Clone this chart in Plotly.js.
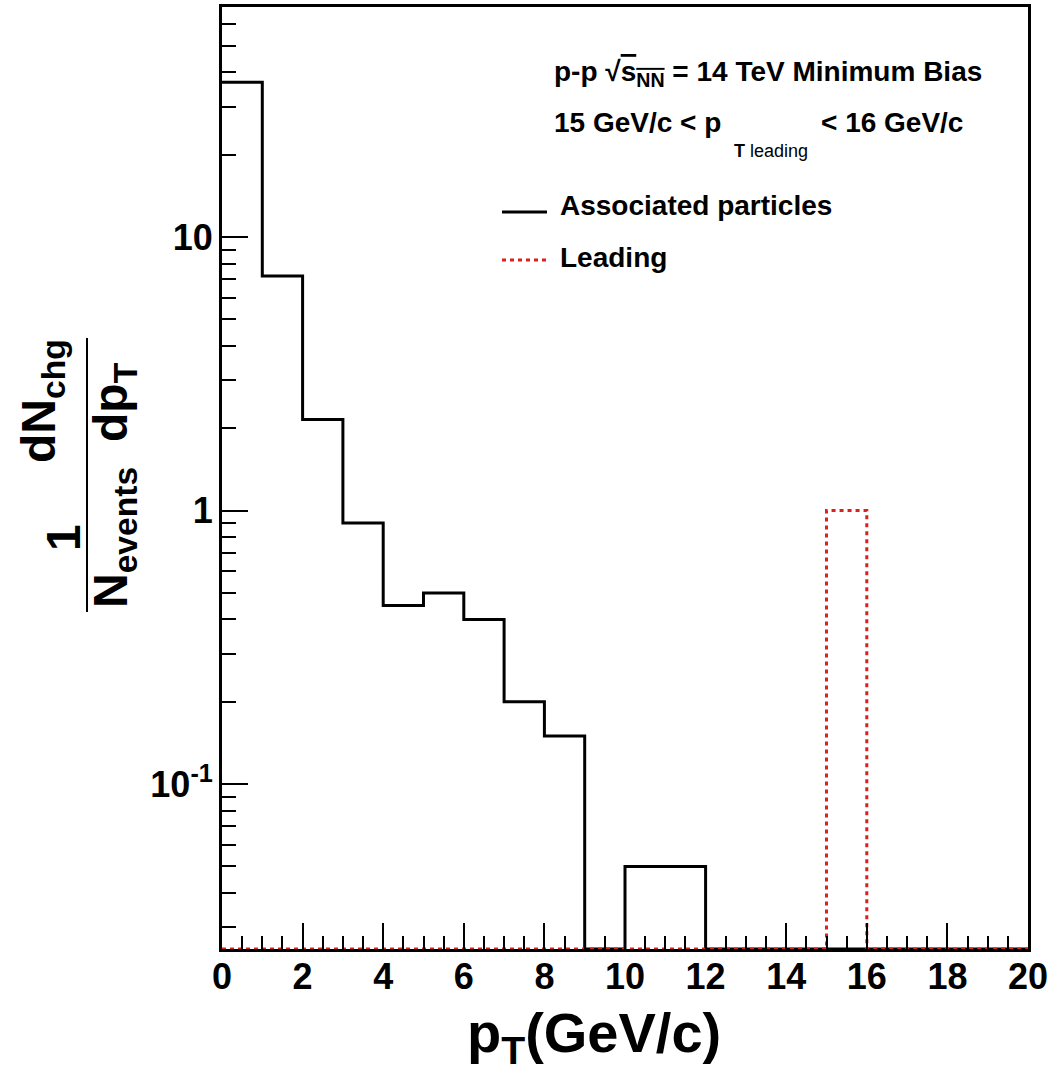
<!DOCTYPE html>
<html>
<head>
<meta charset="utf-8">
<script src="https://cdn.plot.ly/plotly-3.0.1.min.js"></script>
<style>
  html, body { margin: 0; padding: 0; background: #ffffff; }
  #chart { width: 1060px; height: 1076px; }
</style>
</head>
<body>
<div id="chart"></div>
<script>
// ---- data ----
const binEdges = [0, 1, 2, 3, 4, 5, 6, 7, 8, 9, 10, 11, 12, 13, 14, 15, 16, 17, 18, 19, 20];
const assocValues = [36.8, 7.2, 2.15, 0.90, 0.45, 0.50, 0.40, 0.20, 0.15, 0, 0.05, 0.05, 0, 0, 0, 0, 0, 0, 0, 0];
const leadingValues = [0, 0, 0, 0, 0, 0, 0, 0, 0, 0, 0, 0, 0, 0, 0, 1.0, 0, 0, 0, 0];
const xTickVals = [0, 2, 4, 6, 8, 10, 12, 14, 16, 18, 20];
const yTickVals = [0.1, 1, 10];
const yTickText = ["10<sup>-1</sup>", "1", "10"];

// ---- layout geometry ----
const W = 1060, H = 1076;
const M = { l: 222, r: 32, t: 7, b: 127 };
const PW = W - M.l - M.r, PH = H - M.t - M.b;
const Y_RANGE = [-1.603, 1.841];
const FLOOR = Math.pow(10, Y_RANGE[0]);
const px = x => (x - M.l) / PW;
const py = y => (H - M.b - y) / PH;

// minor log ticks
const yMinor = [];
for (let d = -2; d <= 1; d++) {
  for (let k = 2; k <= 9; k++) yMinor.push(k * Math.pow(10, d));
}

// histogram as a step line; empty bins sit on the frame floor as in ROOT
function stepY(vals) {
  const ys = vals.map(v => (v > 0 ? v : FLOOR));
  ys.push(ys[ys.length - 1]);
  return ys;
}

const FONT = 'Liberation Sans, Arial, Helvetica, sans-serif';

const traces = [
  {
    type: 'scatter', mode: 'lines', name: 'Associated particles',
    x: binEdges, y: stepY(assocValues),
    line: { shape: 'hv', color: '#000000', width: 3 },
    hoverinfo: 'skip'
  },
  {
    type: 'scatter', mode: 'lines', name: 'Leading',
    x: binEdges, y: stepY(leadingValues),
    line: { shape: 'hv', color: '#dd1f1f', width: 3, dash: '4px,4px' },
    hoverinfo: 'skip'
  }
];

function ann(text, x, y, size, opts) {
  return Object.assign({
    text: text, xref: 'paper', yref: 'paper', x: px(x), y: py(y),
    xanchor: 'left', yanchor: 'middle', showarrow: false,
    font: { family: FONT, size: size, color: '#000000', weight: 700 }
  }, opts || {});
}

const annotations = [
  // top-right texts
  ann('p-p √<span style="text-decoration:overline">s<sub>NN</sub></span> = 14 TeV Minimum Bias', 552, 74, 28),
  ann('15 GeV/c < p', 552, 122.5, 28),
  ann('T <span style="font-weight:normal">leading</span>', 732, 151, 18),
  ann('< 16 GeV/c', 819, 122.5, 28),
  // legend texts
  ann('Associated particles', 558, 206, 28),
  ann('Leading', 558, 257, 28),
  // x-axis title
  ann('p<sub>T</sub>(GeV/c)', 594, 1036, 56, { xanchor: 'center' }),
  // y-axis title (two stacked fractions, rotated)
  ann('1', 63, 538, 48, { xanchor: 'center', textangle: -90 }),
  ann('N<sub>events</sub>', 114, 538, 48, { xanchor: 'center', textangle: -90 }),
  ann('dN<sub>chg</sub>', 42, 401, 48, { xanchor: 'center', textangle: -90 }),
  ann('dp<sub>T</sub>', 114, 402, 48, { xanchor: 'center', textangle: -90 })
];

const shapes = [
  // fraction bar of y title
  { type: 'line', xref: 'paper', yref: 'paper', x0: px(87), x1: px(87), y0: py(338), y1: py(612),
    line: { color: '#000000', width: 2 } },
  // legend line samples
  { type: 'line', xref: 'paper', yref: 'paper', x0: px(502), x1: px(547), y0: py(212), y1: py(212),
    line: { color: '#000000', width: 3 } },
  { type: 'line', xref: 'paper', yref: 'paper', x0: px(502), x1: px(547), y0: py(260), y1: py(260),
    line: { color: '#dd1f1f', width: 3, dash: '4px,4px' } }
];

const layout = {
  width: W, height: H,
  margin: M,
  paper_bgcolor: '#ffffff', plot_bgcolor: '#ffffff',
  showlegend: false,
  font: { family: FONT, color: '#000000', weight: 700 },
  xaxis: {
    range: [0, 20], tickvals: xTickVals, ticktext: xTickVals.map(String),
    ticks: 'inside', ticklen: 26, tickwidth: 2, tickcolor: '#000000',
    minor: { dtick: 0.5, tick0: 0, ticks: 'inside', ticklen: 13, tickwidth: 2, tickcolor: '#000000', showgrid: false },
    showline: true, linewidth: 3, linecolor: '#000000', mirror: true,
    showgrid: false, zeroline: false,
    tickfont: { family: FONT, size: 36, color: '#000000', weight: 700 },
    ticklabelstandoff: -6
  },
  yaxis: {
    type: 'log', range: Y_RANGE,
    tickvals: yTickVals, ticktext: yTickText,
    ticks: 'inside', ticklen: 26, tickwidth: 2, tickcolor: '#000000',
    minor: { tickvals: yMinor, ticks: 'inside', ticklen: 14, tickwidth: 2, tickcolor: '#000000', showgrid: false },
    showline: true, linewidth: 3, linecolor: '#000000', mirror: true,
    showgrid: false, zeroline: false,
    tickfont: { family: FONT, size: 36, color: '#000000', weight: 700 },
    ticklabelstandoff: -1
  },
  annotations: annotations,
  shapes: shapes
};

Plotly.newPlot('chart', traces, layout, { staticPlot: true, displayModeBar: false });
</script>
</body>
</html>
